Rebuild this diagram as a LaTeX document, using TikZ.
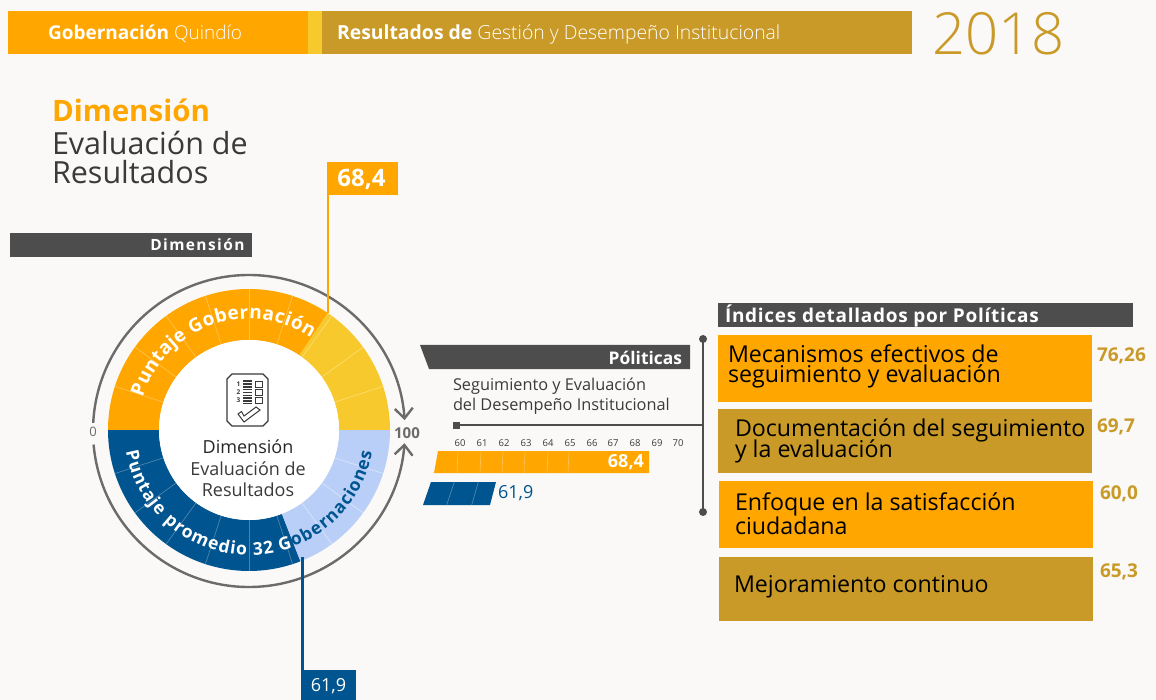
\documentclass[tikz,border=0pt]{standalone}
\usepackage{fontspec}
\setmainfont{Open Sans}
\newfontfamily\lightfont{Open Sans Light}
\usetikzlibrary{arrows.meta,decorations.text,calc}
\definecolor{bgc}{HTML}{FAF9F7}
\definecolor{orangec}{HTML}{FFA600}
\definecolor{yellowc}{HTML}{F8C92C}
\definecolor{goldc}{HTML}{C99A27}
\definecolor{bluec}{HTML}{00548F}
\definecolor{lbluec}{HTML}{B9CFF8}
\definecolor{darkc}{HTML}{4D4D4D}
\definecolor{inkc}{HTML}{3A3A3A}
\definecolor{ringc}{HTML}{6B6B6B}
\definecolor{FFc}{HTML}{FFC14D}
\definecolor{YYc}{HTML}{FBDD70}
\definecolor{BBc}{HTML}{4F84AC}
\definecolor{LLc}{HTML}{D8E4FB}
\newcommand{\fs}[1]{\fontsize{#1}{#1}\selectfont}
\newcommand{\fsl}[2]{\fontsize{#1}{#2}\selectfont}
% \bx{name}{x1}{y1}{x2}{y2}{colour}
\newcommand{\bx}[6]{\node[barbox,fill=#6,minimum width={(#4-#2)*1pt},minimum height={(#5-#3)*1pt}] (#1) at ({(#2+#4)/2},{-(#3+#5)/2}) {};}
\newcommand{\wedgeseg}[3]{\fill[#3] (#1:141pt) arc[start angle=#1,end angle=#2,radius=141pt] -- (#2:90pt) arc[start angle=#2,end angle=#1,radius=90pt] -- cycle;}
\tikzset{
  barbox/.style={inner sep=0pt,outer sep=0pt,rectangle},
  txt/.style={inner sep=0pt,outer sep=0pt,anchor=west},
  txtr/.style={inner sep=0pt,outer sep=0pt,anchor=east},
  txtc/.style={inner sep=0pt,outer sep=0pt,anchor=center},
  boxtxt/.style={inner sep=0pt,outer sep=0pt,anchor=base west,text=black,font=\fs{23.2}},
  valtxt/.style={txt,text=goldc,font=\fs{19}\bfseries},
  ringline/.style={draw=ringc,line width=2.4pt},
  tick/.style={inner sep=0pt,outer sep=0pt,anchor=center,font=\fs{9.5},text=inkc},
}
\begin{document}
\begin{tikzpicture}[x=1pt,y=1pt]
\useasboundingbox (0,0) rectangle (1156,-700);
\fill[bgc] (0,0) rectangle (1156,-700);
% header
\bx{hA}{8}{11}{308}{54}{orangec}
\bx{hB}{308}{11}{322}{54}{yellowc}
\bx{hC}{322}{11}{912}{54}{goldc}
\node[txt,text=white,font=\fs{19}] (hAt) at (48,-33.5) {\textbf{Gobernación} {\lightfont Quindío}};
\node[txt,text=white,font=\fs{19.4}] (hCt) at (337,-34.5) {\textbf{Resultados de} {\lightfont Gestión y Desempeño Institucional}};
\node[txt,text=goldc,font=\fs{58}\lightfont] (year) at (932,-34) {2018};
% title
\node[txt,text=orangec,font=\fs{29.5}\bfseries] (t1) at (52,-110.5) {Dimensión};
\node[txt,text=inkc,font=\fs{30.5}] (t2) at (52,-142.5) {Evaluación de};
\node[txt,text=inkc,font=\fs{30.5}] (t3) at (52,-172.5) {Resultados};
% dimension bar
\bx{dimbar}{10}{233}{252}{257}{darkc}
\node[txtr,text=white,font=\fs{15.5}\bfseries\addfontfeature{LetterSpace=9}] (dimt) at (244.5,-244.5) {Dimensión};
% flags
\bx{flagA}{327}{162}{398}{195}{orangec}
\node[txtc,text=white,font=\fs{24}\bfseries] at (361.5,-179) (flagAt) {68,4};
\bx{flagB}{301}{670}{356}{700}{bluec}
\node[txtc,text=white,font=\fs{18}] at (328.5,-686) (flagBt) {61,9};
\coordinate (tipA) at (328.2,-313);
\coordinate (tipB) at (302.5,-557);
% donut
\begin{scope}[shift={(249,-430)}]
\wedgeseg{180}{56}{orangec}
\wedgeseg{56}{0}{yellowc}
\wedgeseg{180}{291.4}{bluec}
\wedgeseg{291.4}{360}{lbluec}
\foreach \a in {162,144,126,108,90,72} \draw[FFc,line width=.7pt] (\a:90pt) -- (\a:141pt);
\foreach \a in {54,36,18} \draw[YYc,line width=.7pt] (\a:90pt) -- (\a:141pt);
\foreach \a in {198,216,234,252,270,288} \draw[BBc,line width=.7pt] (\a:90pt) -- (\a:141pt);
\foreach \a in {306,324,342} \draw[LLc,line width=.7pt] (\a:90pt) -- (\a:141pt);
\path[decorate,decoration={text along path,text align={fit to path},text={|\fs{19}\bfseries\color{white}|Puntaje Gobernación}}]
  (163:111pt) arc[start angle=163,end angle=56,radius=111pt];
\path[decorate,decoration={text along path,text align={fit to path},text={|\fs{17.5}\bfseries\color{white}|Puntaje promedio 32 G|\fs{17.5}\bfseries\color{bluec}|obernaciones}}]
  (190:125pt) arc[start angle=190,end angle=350,radius=125pt];
\node[circle,fill=white,minimum size=180pt,inner sep=0pt] (hub) at (0,0) {};
\end{scope}
% rings
\begin{scope}[shift={(249,-431)}]
\draw[ringline,-{Straight Barb[length=10pt,width=18pt,line width=2.4pt]}] (177:156pt) arc[start angle=177,end angle=4,radius=156pt];
\draw[ringline,-{Straight Barb[length=10pt,width=18pt,line width=2.4pt]}] (185:156pt) arc[start angle=185,end angle=355.5,radius=156pt];
\end{scope}
\node[txtc,text=ringc,font=\fs{13}] (zero) at (93,-432) {0};
\node[txtc,text=ringc,font=\fs{15}\bfseries] (hundred) at (407,-433) {100};
% flag stems
\draw[orangec,line width=2.4pt] ([xshift=1.2pt]flagA.south west) -- (tipA);
\draw[bluec,line width=3pt] ([xshift=1.5pt]flagB.north west) -- (tipB);
% icon
\draw[inkc,line width=1.1pt,fill=white] (232,-374) -- (263,-374) -- (268,-379) -- (268,-421) -- (263,-426) -- (232,-426) -- (227,-421) -- (227,-379) -- cycle;
\node[txtc,text=inkc,font=\fs{6.5}\bfseries] (n1) at (238.5,-384) {1};
\node[txtc,text=inkc,font=\fs{6.5}\bfseries] (n2) at (238.5,-392) {2};
\node[txtc,text=inkc,font=\fs{6.5}\bfseries] (n3) at (238.5,-400) {3};
\foreach \y in {381,384,387,389.5,392.5,395.5,398,401,403.5} \fill[inkc] (243,-\y-0.6) rectangle (252,-\y+0.6);
\foreach \y in {381,389,397} \draw[inkc,line width=1pt] (255,-\y) rectangle (262,-\y-6);
\draw[inkc,line width=1pt,line join=miter] (238,-414) -- (244,-422) -- (260,-410) -- (256,-407) -- (244,-416) -- (241.5,-411.5) -- cycle;
% hub text
\node[txtc,text=black!85,font=\fs{18}] (c1) at (248,-447) {Dimensión};
\node[txtc,text=inkc,font=\fs{18}] (c2) at (248,-469) {Evaluación de};
\node[txtc,text=inkc,font=\fs{18}] (c3) at (248,-490) {Resultados};
% politicas
\fill[darkc] (420,-345) -- (690,-345) -- (690,-369) -- (429,-369) -- cycle;
\node[txtr,text=white,font=\fs{17.4}\bfseries] (polt) at (682,-357.5) {Póliticas};
\node[txt,text=inkc,font=\fsl{16.3}{20},align=left] (polsub) at (453,-396) {Seguimiento y Evaluación\\del Desempeño Institucional};
\node[inner sep=0pt,minimum size=7pt,fill=darkc,rectangle] (sq) at (456,-425) {};
\coordinate (vTop) at (703,-339);
\coordinate (vBot) at (703,-512);
\coordinate (vMid) at (703,-425);
\draw[darkc,line width=2.2pt] (sq) -- (vMid);
\draw[darkc,line width=2.2pt] (vTop) -- (vBot);
\fill[darkc] (vTop) circle (4pt) (vBot) circle (4pt);
\foreach \v/\xx in {60/460,61/482,62/504,63/526,64/548,65/570,66/592,67/613,68/635,69/657,70/678}
  \node[tick] (tk\v) at (\xx,-443) {\v};
% bars
\fill[orangec] (438,-451) -- (649,-451) -- (649,-473) -- (434,-473) -- cycle;
\foreach \xx in {458,481,503,525,548,569} \draw[FFc,line width=.7pt] (\xx,-451) -- (\xx-1,-473);
\node[txtr,text=white,font=\fs{18}\bfseries] (v1) at (644,-462.5) {68,4};
\fill[bluec] (431,-482) -- (496,-482) -- (490,-505) -- (423,-505) -- cycle;
\draw[BBc,line width=.7pt] (454.3,-482) -- (446.7,-505);
\draw[BBc,line width=.7pt] (478.3,-482) -- (471.7,-505);
\node[txt,text=bluec,font=\fs{18}] (v2) at (498,-493) {61,9};
% indices
\bx{ibar}{718}{303}{1133}{327}{darkc}
\node[txt,text=white,font=\fs{19}\bfseries\addfontfeature{LetterSpace=3.8}] (ibt) at (725,-316) {Índices detallados por Políticas};
\bx{b1}{718}{335}{1092}{402}{orangec}
\bx{b2}{718}{409}{1092}{473}{goldc}
\bx{b3}{719}{481}{1093}{548}{orangec}
\bx{b4}{719}{557}{1093}{621}{goldc}
\node[boxtxt] (bt1a) at (728,-362.7) {Mecanismos efectivos de};
\node[boxtxt] (bt1b) at (728,-382.3) {seguimiento y evaluación};
\node[boxtxt] (bt2a) at (735,-436.3) {Documentación del seguimiento};
\node[boxtxt] (bt2b) at (735,-457.3) {y la evaluación};
\node[boxtxt] (bt3a) at (735,-510.7) {Enfoque en la satisfacción};
\node[boxtxt] (bt3b) at (735,-534.3) {ciudadana};
\node[boxtxt] (bt4) at (734,-592.3) {Mejoramiento continuo};
\node[valtxt] (iv1) at (1097,-356) {76,26};
\node[valtxt] (iv2) at (1097,-427) {69,7};
\node[valtxt] (iv3) at (1100,-494) {60,0};
\node[valtxt] (iv4) at (1100,-572) {65,3};
\end{tikzpicture}
\end{document}
